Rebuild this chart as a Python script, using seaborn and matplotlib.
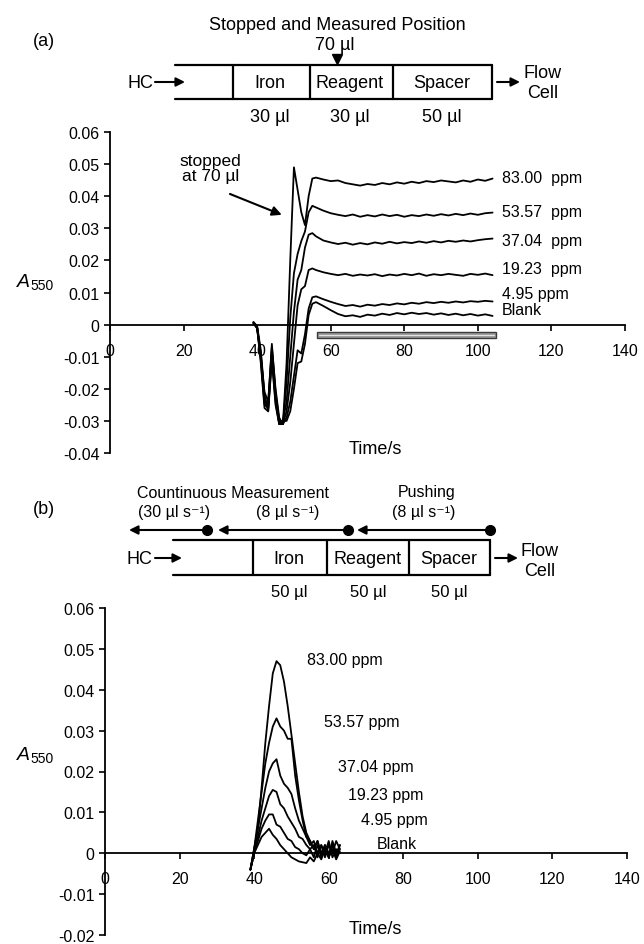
import numpy as np
import pandas as pd
import matplotlib
matplotlib.use("Agg")
import matplotlib.pyplot as plt
from matplotlib.patches import Rectangle
import seaborn as sns

# ---- data ----
labels = ["83.00 ppm", "53.57 ppm", "37.04 ppm", "19.23 ppm", "4.95 ppm", "Blank"]
tags_a = ["83.00  ppm", "53.57  ppm", "37.04  ppm", "19.23  ppm", "4.95 ppm", "Blank"]
tag_y_a = [0.0457, 0.0351, 0.0261, 0.0174, 0.0096, 0.0047]
tag_x_a = 106.5

# (a) stopped flow
time_a = list(range(39, 57)) + list(range(58, 105, 2))
a_83 = [0.0005, -0.001, -0.010, -0.024, -0.026, -0.008, -0.022, -0.030, -0.031,
        -0.012, 0.020, 0.049, 0.042, 0.035, 0.031, 0.040, 0.0455, 0.0458,
        0.0452, 0.0447, 0.0449, 0.0441, 0.0437, 0.0433, 0.0438, 0.0435, 0.0441, 0.0437,
        0.0443, 0.0439, 0.0445, 0.0441, 0.0447, 0.0444, 0.0449, 0.0446, 0.0443, 0.0449,
        0.0445, 0.0452, 0.0448, 0.0455]
a_53 = [0.0008, -0.0005, -0.008, -0.022, -0.027, -0.010, -0.024, -0.031, -0.031,
        -0.018, 0.002, 0.016, 0.022, 0.026, 0.029, 0.035, 0.037, 0.0365,
        0.0355, 0.0347, 0.0342, 0.0338, 0.0343, 0.0336, 0.0341, 0.0337, 0.0343, 0.0338,
        0.0342, 0.0336, 0.0341, 0.0338, 0.0343, 0.0339, 0.0344, 0.0340, 0.0345, 0.0341,
        0.0346, 0.0342, 0.0347, 0.0349]
a_37 = [0.0006, -0.001, -0.009, -0.023, -0.025, -0.006, -0.021, -0.030, -0.030,
        -0.024, -0.010, 0.004, 0.014, 0.017, 0.024, 0.028, 0.0285, 0.0275,
        0.0262, 0.0256, 0.0251, 0.0255, 0.0249, 0.0254, 0.0250, 0.0256, 0.0252, 0.0258,
        0.0253, 0.0257, 0.0254, 0.0259, 0.0255, 0.0260, 0.0256, 0.0261, 0.0258, 0.0262,
        0.0259, 0.0263, 0.0266, 0.0268]
a_19 = [0.0004, -0.0012, -0.011, -0.025, -0.026, -0.009, -0.023, -0.031, -0.031,
        -0.027, -0.018, -0.006, 0.006, 0.011, 0.012, 0.017, 0.0175, 0.017,
        0.0163, 0.0158, 0.0154, 0.0158, 0.0152, 0.0156, 0.0153, 0.0157, 0.0151, 0.0156,
        0.0153, 0.0158, 0.0154, 0.0159, 0.0152, 0.0157, 0.0154, 0.0158, 0.0155, 0.0152,
        0.0158, 0.0155, 0.0159, 0.0154]
a_5 = [0.0007, -0.0008, -0.010, -0.021, -0.024, -0.007, -0.020, -0.029, -0.031,
       -0.029, -0.024, -0.016, -0.008, -0.009, -0.003, 0.005, 0.0085, 0.0088,
       0.0079, 0.0071, 0.0064, 0.0058, 0.0061, 0.0056, 0.0062, 0.0059, 0.0064, 0.0061,
       0.0066, 0.0063, 0.0068, 0.0065, 0.0070, 0.0067, 0.0071, 0.0068, 0.0072, 0.0069,
       0.0073, 0.0071, 0.0074, 0.0072]
a_blank = [0.0005, -0.001, -0.012, -0.026, -0.027, -0.011, -0.025, -0.031, -0.030,
           -0.030, -0.027, -0.020, -0.012, -0.0115, -0.006, 0.003, 0.0065, 0.007,
           0.0058, 0.0045, 0.0033, 0.0026, 0.0029, 0.0024, 0.0031, 0.0028, 0.0034, 0.0030,
           0.0036, 0.0032, 0.0037, 0.0033, 0.0036, 0.0031, 0.0035, 0.0030, 0.0034, 0.0029,
           0.0033, 0.0028, 0.0032, 0.0027]
window_a = (56.2, 104.9)

# (b) continuous flow
time_b = list(range(39, 64))
b_83 = [-0.004, 0.001, 0.006, 0.016, 0.027, 0.036, 0.044, 0.047, 0.046, 0.042, 0.036,
        0.029, 0.022, 0.015, 0.009, 0.005, 0.003, 0.001, 0.003, 0.000, 0.002, -0.001,
        0.003, 0.000, 0.002]
b_53 = [-0.004, 0.001, 0.008, 0.015, 0.022, 0.027, 0.031, 0.033, 0.031, 0.030, 0.028,
        0.028, 0.019, 0.013, 0.008, 0.004, 0.002, 0.003, 0.000, 0.002, -0.001, 0.002,
        0.000, 0.003, 0.001]
b_37 = [-0.004, 0.001, 0.006, 0.011, 0.016, 0.020, 0.022, 0.023, 0.019, 0.017, 0.016,
        0.0145, 0.011, 0.008, 0.006, 0.004, 0.003, 0.001, 0.003, -0.001, 0.002, 0.000,
        0.002, -0.001, 0.002]
b_19 = [-0.004, 0.000, 0.004, 0.008, 0.011, 0.014, 0.0155, 0.015, 0.012, 0.011, 0.009,
        0.0075, 0.006, 0.004, 0.0035, 0.002, 0.001, 0.002, -0.001, 0.002, 0.000, 0.003,
        -0.001, 0.001, 0.000]
b_5 = [-0.004, 0.000, 0.003, 0.006, 0.008, 0.0095, 0.0095, 0.007, 0.0065, 0.005, 0.0035,
       0.003, 0.0015, 0.001, 0.000, -0.0005, 0.001, -0.001, 0.002, -0.0005, 0.001, -0.001,
       0.002, 0.000, 0.001]
b_blank = [-0.004, 0.000, 0.002, 0.004, 0.005, 0.006, 0.0045, 0.0035, 0.002, 0.001, 0.000,
           -0.001, -0.0015, -0.002, -0.0022, -0.0024, -0.001, -0.002, 0.000, -0.0015, 0.001,
           -0.001, 0.001, -0.0015, 0.0005]
tag_xy_b = [(54.1, 0.0473), (58.7, 0.0322), (62.4, 0.0212), (65.3, 0.0144),
            (68.7, 0.0083), (72.8, 0.0024)]


def long_frame(times, series):
    rows = []
    for lab, vals in zip(labels, series):
        for t, v in zip(times, vals):
            rows.append({"Time": t, "A": v, "Sample": lab})
    return pd.DataFrame(rows)


df_a = long_frame(time_a, [a_83, a_53, a_37, a_19, a_5, a_blank])
df_b = long_frame(time_b, [b_83, b_53, b_37, b_19, b_5, b_blank])

sns.set_theme(style="ticks")
plt.rcParams["font.family"] = ["Liberation Sans", "DejaVu Sans"]
plt.rcParams["text.color"] = "black"

fig = plt.figure(figsize=(6.44, 9.45), dpi=100)
ax_a = fig.add_axes([110 / 644, (945 - 454) / 945, 515 / 644, 321 / 945])
ax_b = fig.add_axes([105 / 644, (945 - 936) / 945, 522 / 644, 327 / 945])

black = {lab: "black" for lab in labels}
sns.lineplot(data=df_a, x="Time", y="A", hue="Sample", palette=black, estimator=None,
             sort=False, legend=False, lw=1.3, ax=ax_a)
sns.lineplot(data=df_b, x="Time", y="A", hue="Sample", palette=black, estimator=None,
             sort=False, legend=False, lw=1.3, ax=ax_b)


def style(ax, ymin, ymax):
    ax.set_xlim(0, 140)
    ax.set_ylim(ymin, ymax)
    ax.spines["top"].set_visible(False)
    ax.spines["right"].set_visible(False)
    ax.spines["bottom"].set_position(("data", 0))
    for s in ("left", "bottom"):
        ax.spines[s].set_linewidth(1.3)
        ax.spines[s].set_color("black")
    ax.set_xticks(range(0, 141, 20))
    yt = np.round(np.arange(ymin, ymax + 1e-9, 0.01), 2)
    ax.set_yticks(yt)
    ax.set_yticklabels(["0" if v == 0 else f"{v:.2f}" for v in yt])
    ax.tick_params(direction="out", length=4, width=1.2, labelsize=11.5, colors="black")
    ax.tick_params(axis="x", pad=9)
    ax.set_xlabel("")
    ax.set_ylabel("")
    ax.patch.set_alpha(0)


style(ax_a, -0.04, 0.06)
style(ax_b, -0.02, 0.06)

for tag, y in zip(tags_a, tag_y_a):
    ax_a.text(tag_x_a, y, tag, fontsize=11.5, va="center", ha="left")
for lab, (x, y) in zip(labels, tag_xy_b):
    ax_b.text(x, y, lab, fontsize=11.5, va="center", ha="left")

# measuring window bar
ax_a.add_patch(Rectangle((window_a[0], -0.0043), window_a[1] - window_a[0], 0.0021,
                         facecolor="#9a9a9a", edgecolor="#3a3a3a", lw=1, zorder=3))
ax_a.plot([window_a[0] + 0.5, window_a[1] - 0.5], [-0.0032, -0.0032], color="#e4e4e4",
          lw=0.8, zorder=4)

ax_a.text(27.4, 0.0488, "stopped\nat 70 \u00b5l", fontsize=12.5, ha="center",
          va="center", linespacing=1.0)
ax_a.annotate("", xy=(46.7, 0.0342), xytext=(32.6, 0.0407),
              arrowprops=dict(arrowstyle="-|>", lw=1.5, color="black",
                              shrinkA=0, shrinkB=0, mutation_scale=14))

# ---- overlay in pixel coordinates for schematic and labels ----
ov = fig.add_axes([0, 0, 1, 1])
ov.set_xlim(0, 644)
ov.set_ylim(945, 0)
ov.axis("off")
ov.patch.set_alpha(0)

LW = 1.6
arr = dict(arrowstyle="-|>", lw=1.5, color="black", shrinkA=0, shrinkB=0,
           mutation_scale=13)


def tube(x0, x1, ytop, ybot, dividers):
    ov.plot([x0, x1], [ytop, ytop], color="black", lw=LW)
    ov.plot([x0, x1], [ybot, ybot], color="black", lw=LW)
    for d in dividers:
        ov.plot([d, d], [ytop, ybot], color="black", lw=LW)


# (a) schematic
ov.text(44, 42, "(a)", fontsize=13, ha="center", va="center")
ov.text(337, 25, "Stopped and Measured Position", fontsize=13, ha="center", va="center")
ov.text(335, 46, "70 \u00b5l", fontsize=13, ha="center", va="center")
ov.plot([337], [60], marker="v", color="black", ms=7)
tube(175, 492, 66, 100, [233, 310, 393, 492])
ov.text(153, 83, "HC", fontsize=13, ha="right", va="center")
ov.annotate("", xy=(185, 83), xytext=(155, 83), arrowprops=arr)
for x, name, vol in [(270, "Iron", "30 \u00b5l"), (350, "Reagent", "30 \u00b5l"),
                     (442, "Spacer", "50 \u00b5l")]:
    ov.text(x, 83, name, fontsize=13, ha="center", va="center")
    ov.text(x, 117, vol, fontsize=13, ha="center", va="center")
ov.annotate("", xy=(520, 83), xytext=(497, 83), arrowprops=arr)
ov.text(543, 74, "Flow", fontsize=13, ha="center", va="center")
ov.text(543, 94, "Cell", fontsize=13, ha="center", va="center")

# (b) schematic
ov.text(44, 510, "(b)", fontsize=13, ha="center", va="center")
ov.text(137, 493, "Countinuous Measurement", fontsize=11.5, ha="left", va="center")
ov.text(174, 513, "(30 \u00b5l s\u207b\u00b9)", fontsize=11.5, ha="center", va="center")
ov.text(288, 513, "(8 \u00b5l s\u207b\u00b9)", fontsize=11.5, ha="center", va="center")
ov.text(427, 493, "Pushing", fontsize=11.5, ha="center", va="center")
ov.text(424, 513, "(8 \u00b5l s\u207b\u00b9)", fontsize=11.5, ha="center", va="center")
for head, dot in [(129, 207), (218, 348), (357, 490)]:
    ov.annotate("", xy=(head, 531), xytext=(dot, 531), arrowprops=arr)
    ov.plot([dot], [531], marker="o", color="black", ms=7)
tube(173, 490, 541, 576, [253, 327, 409, 490])
ov.text(152, 559, "HC", fontsize=13, ha="right", va="center")
ov.annotate("", xy=(182, 559), xytext=(155, 559), arrowprops=arr)
for x, name, vol in [(289, "Iron", "50 \u00b5l"), (368, "Reagent", "50 \u00b5l"),
                     (449, "Spacer", "50 \u00b5l")]:
    ov.text(x, 559, name, fontsize=13, ha="center", va="center")
    ov.text(x, 593, vol, fontsize=12, ha="center", va="center")
ov.annotate("", xy=(518, 559), xytext=(495, 559), arrowprops=arr)
ov.text(540, 551, "Flow", fontsize=13, ha="center", va="center")
ov.text(540, 571, "Cell", fontsize=13, ha="center", va="center")

# axis titles
for ybase in (287, 760):
    ov.text(17, ybase, "A", fontsize=14, style="italic", ha="left", va="baseline")
    ov.text(30, ybase + 3, "550", fontsize=10, ha="left", va="baseline")
ov.text(375, 450, "Time/s", fontsize=13, ha="center", va="center")
ov.text(375, 930, "Time/s", fontsize=13, ha="center", va="center")

fig.savefig("out.png", dpi=100)
